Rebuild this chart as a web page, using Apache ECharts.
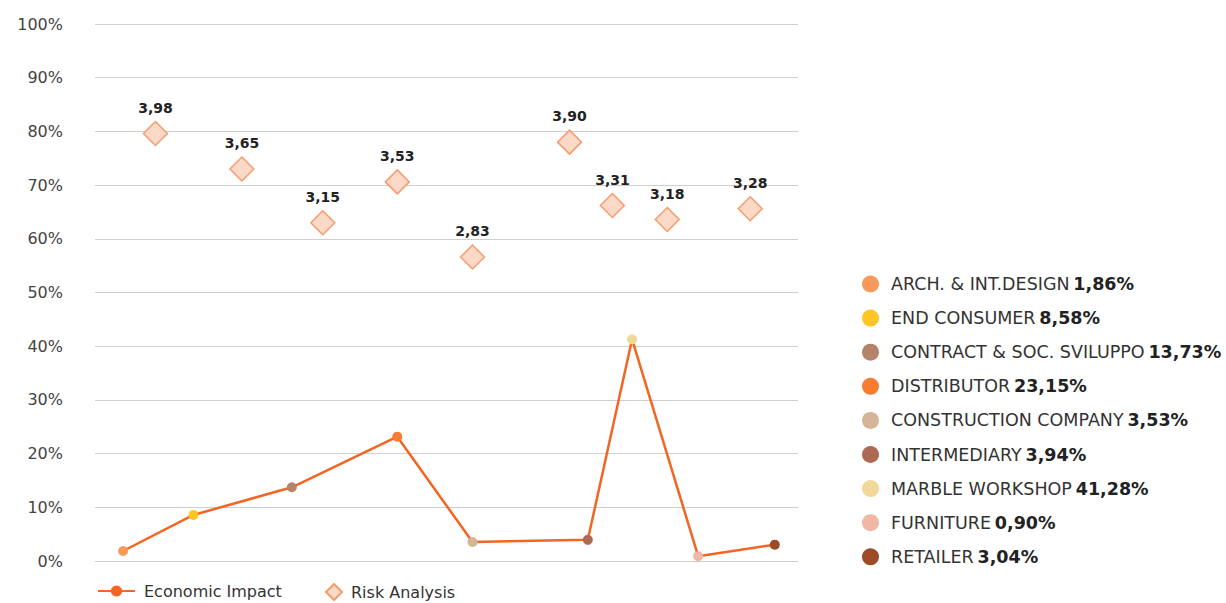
<!DOCTYPE html>
<html>
<head>
<meta charset="utf-8">
<title>Economic Impact & Risk Analysis</title>
<script src="https://cdn.jsdelivr.net/npm/echarts@6/dist/echarts.min.js"></script>
<style>
  html, body { margin: 0; padding: 0; background: #ffffff; }
  #chart { width: 1226px; height: 603px; }
</style>
</head>
<body>
<div id="chart"></div>
<script>
// Customer segments
const categories = [
  'ARCH. & INT.DESIGN', 'END CONSUMER', 'CONTRACT & SOC. SVILUPPO', 'DISTRIBUTOR',
  'CONSTRUCTION COMPANY', 'INTERMEDIARY', 'MARBLE WORKSHOP', 'FURNITURE', 'RETAILER'
];
// Share of economic impact per segment (%)
const economicImpact = [1.86, 8.58, 13.73, 23.15, 3.53, 3.94, 41.28, 0.90, 3.04];
// Horizontal placement of each economic-impact point (0-100 scale)
const impactX = [4, 14, 28, 43, 53.7, 70.1, 76.4, 85.8, 96.7];
// Risk score per segment (scale 0-5)
const riskScores = [3.98, 3.65, 3.15, 3.53, 2.83, 3.90, 3.31, 3.18, 3.28];
// Horizontal placement of each risk point (0-100 scale)
const riskX = [8.6, 20.9, 32.4, 43, 53.7, 67.5, 73.6, 81.4, 93.2];
// Segment colours
const segmentColors = ['#F7995A', '#FFC425', '#B5836A', '#F57C30', '#D4B595', '#AC6A52', '#F0D898', '#F0B8A4', '#9E4A26'];
// Y axis ticks
const yTicks = { min: 0, max: 100, interval: 10 };

const FONT = 'DejaVu Sans';
const fmtComma = v => v.toFixed(2).replace('.', ',');

const chart = echarts.init(document.getElementById('chart'), null, { renderer: 'svg' });

const impactData = economicImpact.map((v, i) => ({
  value: [impactX[i], v],
  name: categories[i],
  itemStyle: { color: segmentColors[i] }
}));
const riskData = riskScores.map((s, i) => ({
  value: [riskX[i], s / 5 * 100, s],
  name: categories[i]
}));

// Empty series that only feed the segment legend on the right
const segmentSeries = categories.map((c, i) => ({
  name: c,
  type: 'scatter',
  data: [],
  itemStyle: { color: segmentColors[i], opacity: 1 }
}));
const pctByName = {};
categories.forEach((c, i) => { pctByName[c] = fmtComma(economicImpact[i]) + '%'; });

const bottomLegendText = { fontSize: 16, color: '#333333', fontFamily: FONT, padding: [0, 0, 0, 4] };

chart.setOption({
  animation: false,
  textStyle: { fontFamily: FONT },
  grid: { left: 95, right: 428, top: 24, bottom: 42 },
  xAxis: {
    type: 'value', min: 0, max: 100, show: false
  },
  yAxis: {
    type: 'value', min: yTicks.min, max: yTicks.max, interval: yTicks.interval,
    axisLine: { show: false }, axisTick: { show: false },
    axisLabel: { formatter: '{value}%', color: '#444444', fontSize: 16, margin: 32, fontFamily: FONT },
    splitLine: { lineStyle: { color: '#cfcfcf', width: 1 } }
  },
  legend: [
    {
      data: ['Economic Impact'],
      left: 92, top: 578,
      itemWidth: 37, itemHeight: 14,
      textStyle: bottomLegendText
    },
    {
      data: ['Risk Analysis'],
      left: 320, top: 578,
      itemWidth: 16, itemHeight: 16,
      textStyle: bottomLegendText
    },
    {
      data: categories,
      orient: 'vertical',
      left: 857, top: 270,
      icon: 'circle',
      itemWidth: 17, itemHeight: 17, itemGap: 16.1,
      formatter: name => '{n|' + name + '} {v|' + pctByName[name] + '}',
      textStyle: {
        fontFamily: FONT,
        padding: [0, 0, 0, 7],
        rich: {
          n: { fontSize: 17.5, color: '#333333', fontFamily: FONT },
          v: { fontSize: 17.5, color: '#222222', fontWeight: 'bold', fontFamily: FONT }
        }
      }
    }
  ],
  series: [
    {
      name: 'Economic Impact',
      type: 'line',
      data: impactData,
      symbol: 'circle', symbolSize: 10,
      lineStyle: { color: '#F26522', width: 2.5 },
      itemStyle: { color: '#F26522' },
      z: 3
    },
    {
      name: 'Risk Analysis',
      type: 'scatter',
      data: riskData,
      symbol: 'diamond', symbolSize: 24,
      itemStyle: { color: '#FBD9C6', borderColor: '#F59C6E', borderWidth: 1.5, opacity: 1 },
      label: {
        show: true, position: 'top', distance: 6,
        formatter: p => fmtComma(p.value[2]),
        fontSize: 14, fontWeight: 'bold', color: '#222222', fontFamily: FONT
      },
      z: 2
    },
    ...segmentSeries
  ]
});
</script>
</body>
</html>
